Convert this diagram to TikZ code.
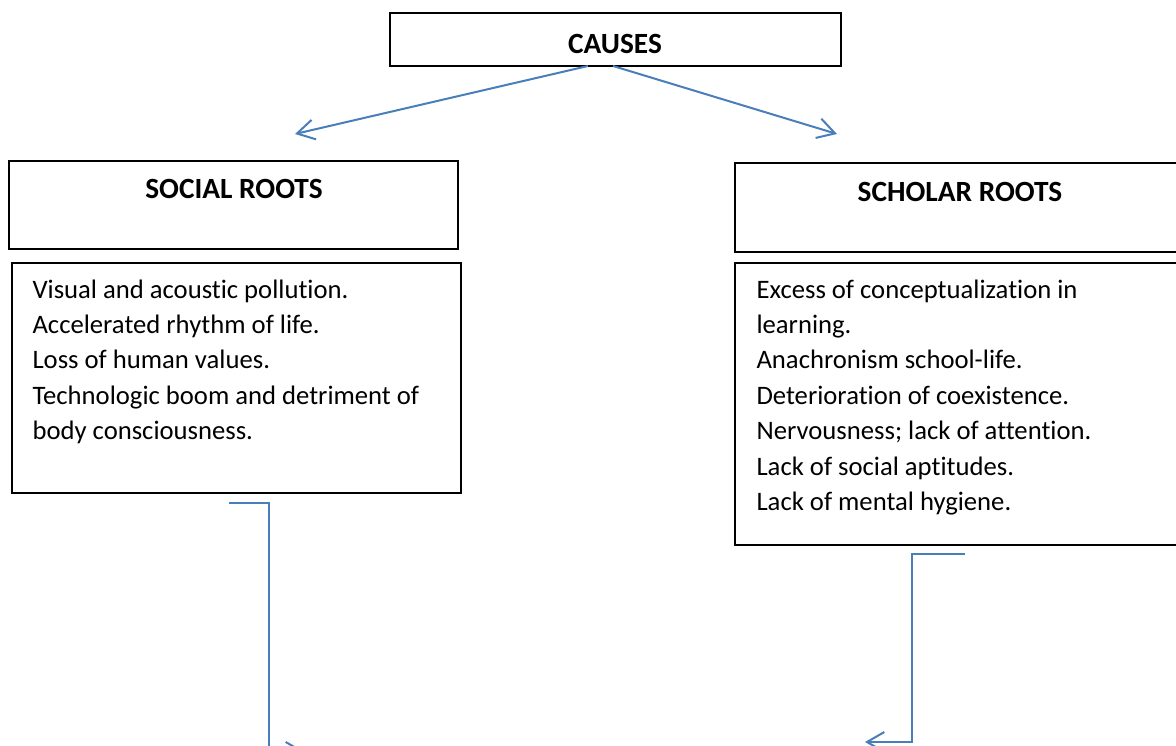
\documentclass[tikz,border=0pt]{standalone}
\usepackage{fontspec}
\setmainfont{Carlito}[Ligatures=NoCommon]
\usetikzlibrary{arrows.meta,fit}
\definecolor{linkblue}{RGB}{74,126,187}

\tikzset{
  box/.style={draw=black, line width=0.75pt, inner sep=0pt},
  heading/.style={font=\bfseries\fontsize{11}{13.3}\selectfont, anchor=base, inner sep=0pt},
  item/.style={font=\fontsize{10}{13.3}\selectfont, align=left, anchor=north west, inner sep=0pt},
  link/.style={draw=linkblue, line width=0.75pt, -{Straight Barb[length=6.5pt,width=7.5pt]}},
}

\begin{document}
\begin{tikzpicture}[x=0.375pt, y=-0.375pt]
  \useasboundingbox (0,0) rectangle (1176,746);
  \clip (0,0) rectangle (1176,746);
  % Boxes
  \node[box, fit={(390,13) (841,66)}] (causes) {};
  \node[box, fit={(9,161) (458,249)}] (social) {};
  \node[box, fit={(12,263) (461,493)}] (socialList) {};
  \node[box, fit={(735,163) (1190,252)}] (scholar) {};
  \node[box, fit={(735,263) (1190,545)}] (scholarList) {};
  % Texts
  \node[heading] (causesText) at (615,54) {CAUSES};
  \node[heading] (socialText) at (234,199) {SOCIAL ROOTS};
  \node[heading] (scholarText) at (960,202) {SCHOLAR ROOTS};
  \node[item] (socialItems) at (32,279) {Visual and acoustic pollution.\\
    Accelerated rhythm of life.\\
    Loss of human values.\\
    Technologic boom and detriment of\\
    body consciousness.};
  \node[item] (scholarItems) at (756,279) {Excess of conceptualization in\\
    learning.\\
    Anachronism school-life.\\
    Deterioration of coexistence.\\
    Nervousness; lack of attention.\\
    Lack of social aptitudes.\\
    Lack of mental hygiene.};
  % Connectors
  \coordinate (causesL) at (588,66);
  \coordinate (causesR) at (613,66);
  \coordinate (socialTip) at (295,134);
  \coordinate (scholarTip) at (837,134);
  \coordinate (socialOut) at (229,503);
  \coordinate (socialIn) at (305,752);
  \coordinate (scholarOut) at (965,554);
  \coordinate (scholarIn) at (865,742);
  \draw[link] (causesL) -- (socialTip);
  \draw[link] (causesR) -- (scholarTip);
  \draw[link] (socialOut) -- ++(40,0) |- (socialIn);
  \draw[link] (scholarOut) -- ++(-53,0) |- (scholarIn);
\end{tikzpicture}
\end{document}
